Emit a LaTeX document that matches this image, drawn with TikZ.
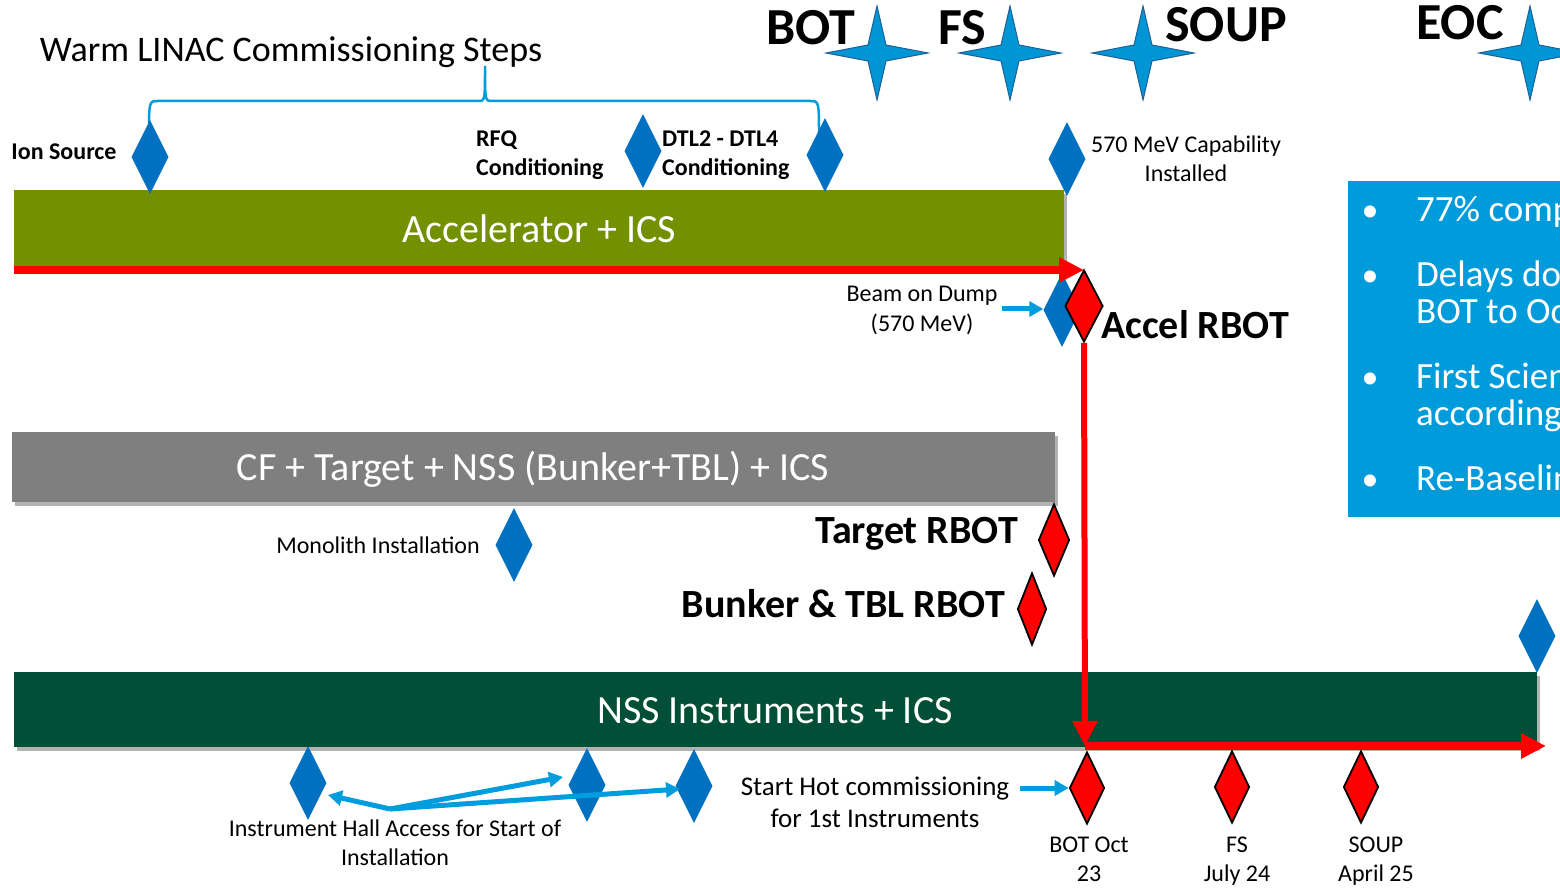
\documentclass[tikz,border=0pt]{standalone}
\usepackage{fontspec}
\setmainfont{Carlito}
\usetikzlibrary{arrows.meta,shapes.geometric,shadows,calc}
\definecolor{accgreen}{RGB}{115,144,0}
\definecolor{bargray}{RGB}{127,127,127}
\definecolor{nssgreen}{RGB}{0,79,54}
\definecolor{diablue}{RGB}{0,112,192}
\definecolor{lightblue}{RGB}{0,157,222}
\definecolor{boxblue}{RGB}{0,155,219}
\definecolor{starblue}{RGB}{0,150,214}
\definecolor{staredge}{RGB}{31,95,150}
\tikzset{
 bdia/.style={diamond, fill=diablue, draw=none, inner sep=0pt, minimum width=37pt, minimum height=74pt},
 rdia/.style={diamond, fill=red, draw=black, line width=1.8pt, inner sep=0pt, minimum width=35pt, minimum height=72pt},
 bar/.style={draw=none, inner sep=0pt, anchor=north west, drop shadow={shadow xshift=3pt, shadow yshift=-4pt, opacity=0.3, fill=black}},
 bartext/.style={text=white, font=\fontsize{40}{48}\selectfont, inner sep=0pt, anchor=base},
 lbl/.style={font=\fontsize{24}{29}\selectfont, inner sep=0pt, align=center, anchor=base},
 blbl/.style={font=\bfseries\fontsize{24}{29}\selectfont, inner sep=0pt, align=left, anchor=base west},
 bigb/.style={font=\bfseries\fontsize{40}{48}\selectfont, inner sep=0pt},
 ms/.style={font=\bfseries\fontsize{52}{60}\selectfont, inner sep=0pt, anchor=base},
 redarrow/.style={red, line width=8pt, -{Triangle[length=25pt,width=24pt]}},
 bluearrow/.style={lightblue, line width=5pt, -{Triangle[length=14pt,width=15pt]}},
 starshape/.style={fill=starblue, draw=staredge, line width=1pt},
 bullettext/.style={text=white, font=\fontsize{37}{37}\selectfont, inner sep=0pt, align=left, anchor=base west},
 fourstar/.pic={\path[starshape] (0,-47) -- (9,-8) -- (51,0) -- (9,8) -- (0,47) -- (-9,8) -- (-51,0) -- (-9,-8) -- cycle;},
}
\begin{document}
\begin{tikzpicture}[x=1pt,y=-1pt]
\useasboundingbox (0,0) rectangle (1560,890);
\clip (0,0) rectangle (1560,890);
\fill[white] (0,0) rectangle (1560,890);
% bars
\node[bar, fill=accgreen, minimum width=1050pt, minimum height=77pt] (accBar) at (14,190) {};
\node[bar, fill=bargray, minimum width=1043pt, minimum height=70pt] (cfBar) at (12,432) {};
\node[bar, fill=nssgreen, minimum width=1523pt, minimum height=75pt] (nssBar) at (14,672) {};
\node[bartext] (txtAcc) at (539,243) {Accelerator + ICS};
\node[bartext] (txtCF) at (533,480) {CF + Target + NSS (Bunker+TBL) + ICS};
\node[bartext] (txtNSS) at (775,723) {NSS Instruments + ICS};
% info box
\node[fill=boxblue, minimum width=222pt, minimum height=336pt, anchor=north west, inner sep=0pt] (infoBox) at (1348,181) {};
\node[bullettext, anchor=base, font=\fontsize{34}{37}\selectfont] (bu1) at (1370,222) {•};
\node[bullettext, anchor=base, font=\fontsize{34}{37}\selectfont] (bu2) at (1370,287) {•};
\node[bullettext, anchor=base, font=\fontsize{34}{37}\selectfont] (bu3) at (1370,388) {•};
\node[bullettext, anchor=base, font=\fontsize{34}{37}\selectfont] (bu4) at (1370,490) {•};
\node[bullettext] (it1) at (1416,222) {77\% complete};
\node[bullettext] (it2) at (1416,324) {Delays do\\BOT to Oct};
\node[bullettext] (it3) at (1416,425) {First Science\\according};
\node[bullettext] (it4) at (1416,490) {Re-Baselining};
% title and brace
\node[font=\fontsize{36}{43}\selectfont, inner sep=0pt, anchor=base] (title) at (291,62) {Warm LINAC Commissioning Steps};
\coordinate (brL) at (149,137);
\coordinate (brM) at (485,66);
\coordinate (brR) at (819,137);
\draw[lightblue, line width=2.5pt] (brL) .. controls (149,101) .. (158,101) -- (478,101)
  .. controls (485,101) .. (brM) .. controls (485,101) .. (492,101) -- (810,101)
  .. controls (819,101) .. (brR);
% stars and milestones
\pic (starBOT) at (877,53) {fourstar};
\pic (starFS) at (1010,53) {fourstar};
\pic (starSOUP) at (1143,53) {fourstar};
\pic (starEOC) at (1530,53) {fourstar};
\node[ms] (mBOT) at (811,45) {BOT};
\node[ms] (mFS) at (962,45) {FS};
\node[ms] (mSOUP) at (1226,42) {SOUP};
\node[ms] (mEOC) at (1460,40) {EOC};
% labels
\node[blbl, anchor=base] (lblIon) at (64,160) {Ion Source};
\node[blbl] (lblRFQ) at (476,176) {RFQ\\Conditioning};
\node[blbl] (lblDTL) at (662,176) {DTL2 - DTL4\\Conditioning};
\node[lbl] (lbl570) at (1186,182) {570 MeV Capability\\Installed};
\node[lbl] (lblBeam) at (922,331) {Beam on Dump\\(570 MeV)};
\node[lbl] (lblMono) at (378,553) {Monolith Installation};
\node[lbl] (lblIH) at (395,865) {Instrument Hall Access for Start of\\Installation};
\node[lbl, font=\fontsize{27}{32}\selectfont] (lblHot) at (875,827) {Start Hot commissioning\\for 1st Instruments};
\node[lbl] (lblBOT) at (1089,881) {BOT Oct\\23};
\node[lbl] (lblFS) at (1237,881) {FS\\July 24};
\node[lbl] (lblSOUP) at (1376,881) {SOUP\\April 25};
\node[bigb, anchor=base west] (lblAccel) at (1101,338) {Accel RBOT};
\node[bigb, anchor=base east] (lblTarget) at (1018,543) {Target RBOT};
\node[bigb, anchor=base east] (lblBunker) at (1005,617) {Bunker \& TBL RBOT};
% diamonds
\node[bdia] (dIon) at (150,157) {};
\node[bdia] (dRFQ) at (643,151) {};
\node[bdia] (dDTL) at (825,155) {};
\node[bdia] (d570) at (1067,159) {};
\node[bdia] (dBeam) at (1062,310) {};
\node[bdia] (dMono) at (514,545) {};
\node[bdia] (dRight) at (1537,636) {};
\node[bdia] (dB1) at (308,783) {};
\node[bdia] (dB2) at (587,785) {};
\node[bdia] (dB3) at (694,786) {};
% red path
\coordinate (accStart) at (14,270);
\node[rdia, minimum width=38pt] (dAccel) at (1084,306) {};
\draw[redarrow] (accStart) -- (accStart -| dAccel.north);
\coordinate (redCorner) at (1085,746);
\coordinate (redEnd) at (1546,746);
\draw[redarrow, line width=6pt] (dAccel.south) -- (redCorner);
\draw[redarrow] (redCorner) -- (redEnd);
\node[rdia, minimum width=31pt] (dTarget) at (1054,540) {};
\node[rdia, minimum width=29pt] (dBunker) at (1032,609) {};
\node[rdia] (rB1) at (1087,788) {};
\node[rdia] (rB2) at (1232,787) {};
\node[rdia] (rB3) at (1361,787) {};
% blue arrows
\coordinate (beamStart) at (1002,309);
\draw[bluearrow] (beamStart) -- (beamStart -| dBeam.west);
\coordinate (hotStart) at (1020,788);
\draw[bluearrow] (hotStart) -- (hotStart -| rB1.west);
\coordinate (ihHub) at (390,809);
\draw[bluearrow] (ihHub) -- ($(dB1)+(20,12)$);
\draw[bluearrow] (ihHub) -- ($(dB2)+(-24,-8)$);
\draw[bluearrow] (ihHub) -- ($(dB3)+(-14,3)$);
\end{tikzpicture}
\end{document}
